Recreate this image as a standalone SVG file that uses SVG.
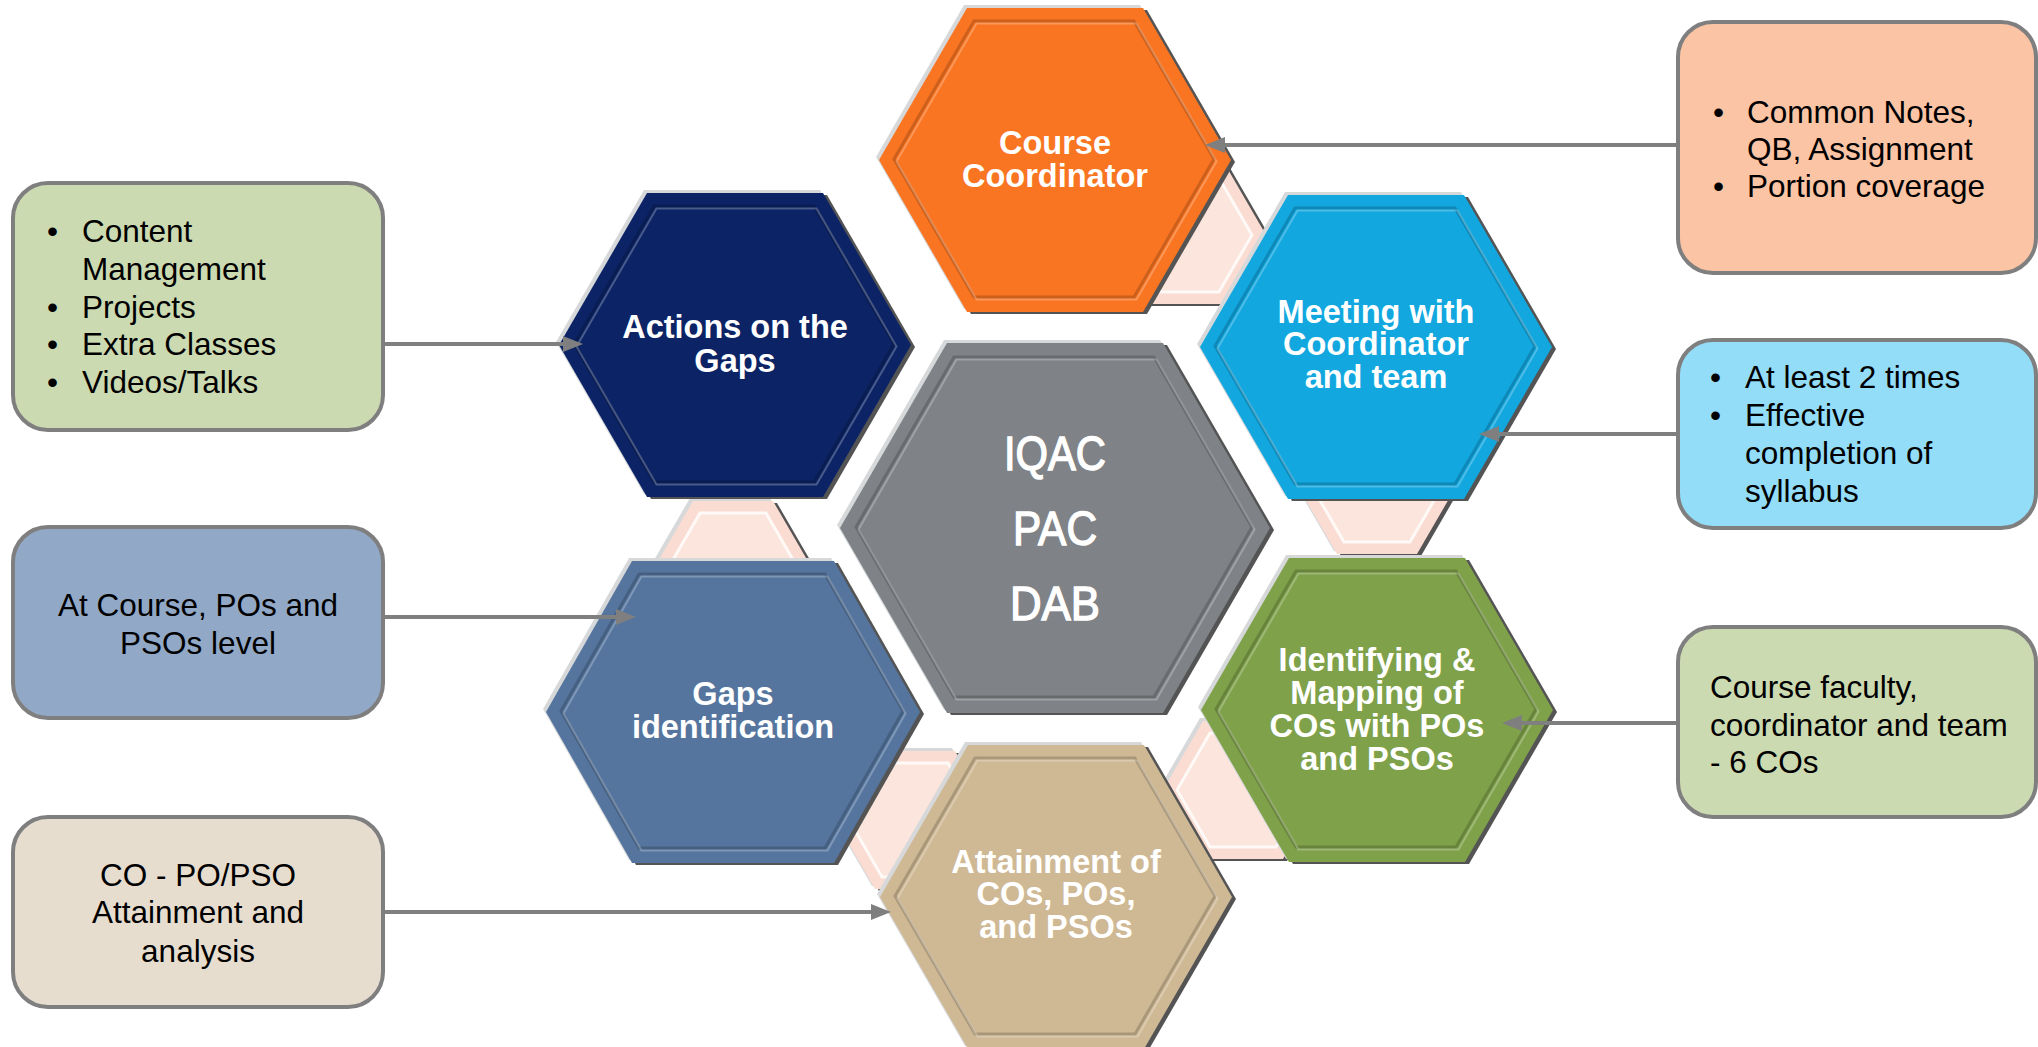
<svg xmlns="http://www.w3.org/2000/svg" xmlns:xlink="http://www.w3.org/1999/xlink" width="2038" height="1047" viewBox="0 0 2038 1047">
<style>
.rimD{fill:#545454}
.rimL{fill:#d6d8da}
.bevD{fill:none;stroke:#000;stroke-opacity:0.18;stroke-width:3}
.bevL{fill:none;stroke:#fff;stroke-opacity:0.25;stroke-width:2}
.pk{fill:#FADCD2}
.pkIn{fill:#FCE5DC;stroke:#fff;stroke-opacity:0.8;stroke-width:3}
.ht{font-family:"Liberation Sans",Arial,sans-serif;font-weight:bold;font-size:32.5px;fill:#fff;text-anchor:middle}
.ct{font-family:"Liberation Sans",Arial,sans-serif;font-size:49px;fill:#fff;stroke:#fff;stroke-width:1.4;text-anchor:middle}
.box{stroke:#7F7F7F;stroke-width:4}
.bt{font-family:"Liberation Sans",Arial,sans-serif;font-size:31.5px;fill:#000}
.btc{font-family:"Liberation Sans",Arial,sans-serif;font-size:31.5px;fill:#000;text-anchor:middle}
.conn{stroke:#7F7F7F;stroke-width:4;fill:none;marker-end:url(#arr)}
</style>
<defs>
<polygon id="h176" points="176,0 88,152 -88,152 -176,0 -88,-152 88,-152"/>
<polygon id="i176" points="160,0 80,138 -80,138 -160,0 -80,-138 80,-138"/>
<polygon id="h215" points="215,0 108,185 -108,185 -215,0 -108,-185 108,-185"/>
<polygon id="i215" points="198,0 100,170 -100,170 -198,0 -100,-170 100,-170"/>
<polygon id="hg" points="187,0 101,151 -101,151 -187,0 -101,-151 101,-151"/>
<polygon id="ig" points="171,0 93,137 -93,137 -171,0 -93,-137 93,-137"/>
<polygon id="p80" points="80,0 40,69 -40,69 -80,0 -40,-69 40,-69"/>
<polygon id="q80" points="66,0 33,57 -33,57 -66,0 -33,-57 33,-57"/>
<marker id="arr" markerUnits="userSpaceOnUse" viewBox="0 0 20 16" markerWidth="20" markerHeight="16" refX="10" refY="8" orient="auto">
<path d="M0,0 L20,8 L0,16 z" fill="#7F7F7F"/>
</marker>
</defs>
<rect width="2038" height="1047" fill="#fff"/>

<g id="hex-links">
<g transform="translate(1186,235)"><use href="#p80" class="rimD" x="4" y="2"/><use href="#p80" class="rimL" x="-3" y="-3"/><use href="#p80" class="pk"/><use href="#q80" class="pkIn"/></g>
<g transform="translate(1377,485)"><use href="#p80" class="rimD" x="4" y="2"/><use href="#p80" class="rimL" x="-3" y="-3"/><use href="#p80" class="pk"/><use href="#q80" class="pkIn"/></g>
<g transform="translate(1243,790)"><use href="#p80" class="rimD" x="4" y="2"/><use href="#p80" class="rimL" x="-3" y="-3"/><use href="#p80" class="pk"/><use href="#q80" class="pkIn"/></g>
<g transform="translate(915,820)"><use href="#p80" class="rimD" x="4" y="2"/><use href="#p80" class="rimL" x="-3" y="-3"/><use href="#p80" class="pk"/><use href="#q80" class="pkIn"/></g>
<g transform="translate(733,570)"><use href="#p80" class="rimD" x="4" y="2"/><use href="#p80" class="rimL" x="-3" y="-3"/><use href="#p80" class="pk"/><use href="#q80" class="pkIn"/></g>
</g>

<g id="course-coordinator" transform="translate(1055,160)">
<use href="#h176" class="rimD" x="4" y="2"/><use href="#h176" class="rimL" x="-3" y="-3"/><use href="#h176" fill="#F97522"/>
<use href="#i176" class="bevD" x="-1" y="-1"/><use href="#i176" class="bevL" x="1.5" y="1.5"/>
<text class="ht" y="-6">Course</text><text class="ht" y="27">Coordinator</text>
</g>

<g id="meeting" transform="translate(1376,347)">
<use href="#h176" class="rimD" x="4" y="2"/><use href="#h176" class="rimL" x="-3" y="-3"/><use href="#h176" fill="#12A7DF"/>
<use href="#i176" class="bevD" x="-1" y="-1"/><use href="#i176" class="bevL" x="1.5" y="1.5"/>
<text class="ht" y="-24">Meeting with</text><text class="ht" y="8">Coordinator</text><text class="ht" y="41">and team</text>
</g>

<g id="identifying" transform="translate(1377,710)">
<use href="#h176" class="rimD" x="4" y="2"/><use href="#h176" class="rimL" x="-3" y="-3"/><use href="#h176" fill="#7FA14A"/>
<use href="#i176" class="bevD" x="-1" y="-1"/><use href="#i176" class="bevL" x="1.5" y="1.5"/>
<text class="ht" y="-39">Identifying &amp;</text><text class="ht" y="-6">Mapping of</text><text class="ht" y="27">COs with POs</text><text class="ht" y="60">and PSOs</text>
</g>

<g id="attainment" transform="translate(1056,897)">
<use href="#h176" class="rimD" x="4" y="2"/><use href="#h176" class="rimL" x="-3" y="-3"/><use href="#h176" fill="#CFB995"/>
<use href="#i176" class="bevD" x="-1" y="-1"/><use href="#i176" class="bevL" x="1.5" y="1.5"/>
<text class="ht" y="-24">Attainment of</text><text class="ht" y="8">COs, POs,</text><text class="ht" y="41">and PSOs</text>
</g>

<g id="gaps-identification" transform="translate(733,712)">
<use href="#hg" class="rimD" x="4" y="2"/><use href="#hg" class="rimL" x="-3" y="-3"/><use href="#hg" fill="#55759E"/>
<use href="#ig" class="bevD" x="-1" y="-1"/><use href="#ig" class="bevL" x="1.5" y="1.5"/>
<text class="ht" y="-7">Gaps</text><text class="ht" y="26">identification</text>
</g>

<g id="actions" transform="translate(735,345)">
<use href="#h176" class="rimD" x="4" y="2"/><use href="#h176" class="rimL" x="-3" y="-3"/><use href="#h176" fill="#0C2465"/>
<use href="#i176" class="bevD" x="-1" y="-1"/><use href="#i176" class="bevL" x="1.5" y="1.5"/>
<text class="ht" y="-7">Actions on the</text><text class="ht" y="27">Gaps</text>
</g>

<g id="center" transform="translate(1055,528)">
<use href="#h215" class="rimD" x="4" y="2"/><use href="#h215" class="rimL" x="-3" y="-3"/><use href="#h215" fill="#7F8387"/>
<use href="#i215" class="bevD" x="-1" y="-1"/><use href="#i215" class="bevL" x="1.5" y="1.5"/>
<text class="ct" y="-58" textLength="102" lengthAdjust="spacingAndGlyphs">IQAC</text>
<text class="ct" y="17" textLength="84" lengthAdjust="spacingAndGlyphs">PAC</text>
<text class="ct" y="92" textLength="90" lengthAdjust="spacingAndGlyphs">DAB</text>
</g>

<g id="box-course-coordinator">
<rect class="box" x="1678" y="22" width="358" height="251" rx="35" fill="#FBC4A4"/>
<text class="bt" x="1713" y="123">•</text><text class="bt" x="1747" y="123">Common Notes,</text>
<text class="bt" x="1747" y="160">QB, Assignment</text>
<text class="bt" x="1713" y="197">•</text><text class="bt" x="1747" y="197">Portion coverage</text>
</g>

<g id="box-meeting">
<rect class="box" x="1678" y="340" width="358" height="188" rx="35" fill="#93DDF8"/>
<text class="bt" x="1710" y="388">•</text><text class="bt" x="1745" y="388">At least 2 times</text>
<text class="bt" x="1710" y="426">•</text><text class="bt" x="1745" y="426">Effective</text>
<text class="bt" x="1745" y="464">completion of</text>
<text class="bt" x="1745" y="502">syllabus</text>
</g>

<g id="box-identifying">
<rect class="box" x="1678" y="627" width="358" height="190" rx="35" fill="#CCDAB1"/>
<text class="bt" x="1710" y="698">Course faculty,</text>
<text class="bt" x="1710" y="736">coordinator and team</text>
<text class="bt" x="1710" y="773">- 6 COs</text>
</g>

<g id="box-actions">
<rect class="box" x="13" y="183" width="370" height="247" rx="35" fill="#CCDAB1"/>
<text class="bt" x="47" y="242">•</text><text class="bt" x="82" y="242">Content</text>
<text class="bt" x="82" y="280">Management</text>
<text class="bt" x="47" y="318">•</text><text class="bt" x="82" y="318">Projects</text>
<text class="bt" x="47" y="355">•</text><text class="bt" x="82" y="355">Extra Classes</text>
<text class="bt" x="47" y="393">•</text><text class="bt" x="82" y="393">Videos/Talks</text>
</g>

<g id="box-gaps">
<rect class="box" x="13" y="527" width="370" height="191" rx="35" fill="#91A8C6"/>
<text class="btc" x="198" y="616">At Course, POs and</text>
<text class="btc" x="198" y="654">PSOs level</text>
</g>

<g id="box-attainment">
<rect class="box" x="13" y="817" width="370" height="190" rx="35" fill="#E6DDCF"/>
<text class="btc" x="198" y="886">CO - PO/PSO</text>
<text class="btc" x="198" y="923">Attainment and</text>
<text class="btc" x="198" y="962">analysis</text>
</g>

<g id="connectors">
<line class="conn" x1="1678" y1="145" x2="1215" y2="145"/>
<line class="conn" x1="1678" y1="434" x2="1489" y2="434"/>
<line class="conn" x1="1678" y1="723" x2="1512" y2="723"/>
<line class="conn" x1="383" y1="344" x2="573" y2="344"/>
<line class="conn" x1="383" y1="617" x2="626" y2="617"/>
<line class="conn" x1="383" y1="912" x2="881" y2="912"/>
</g>
</svg>
